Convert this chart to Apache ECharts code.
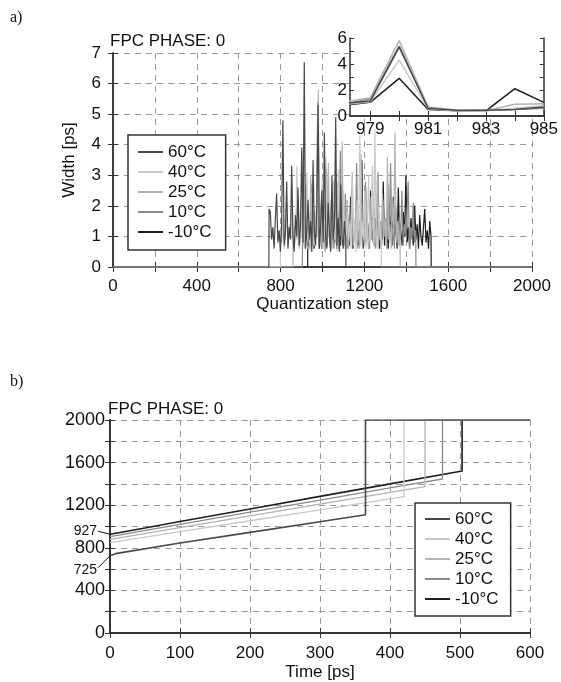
<!DOCTYPE html>
<html><head><meta charset="utf-8">
<script src="https://cdn.jsdelivr.net/npm/echarts@6/dist/echarts.min.js"></script>
<style>html,body{margin:0;padding:0;background:#fff}#c{width:561px;height:682px}</style>
</head><body><div id="c"></div>
<script>
// ---------- data ----------
const seriesNames = ['60°C', '40°C', '25°C', '10°C', '-10°C'];

// (a) width per quantization step; sampled every `stepWidth` codes from the series start
const stepWidth = 6;
const widthStart = [745, 800, 860, 905, 930];
const width60 = [1.9,1.8,0.9,1.3,0.6,1.6,2.4,0.8,1.2,0.5,1.4,4.8,0.7,1.1,2.8,0.6,1.3,0.9,3.3,1.0,0.5,1.7,1.0,2.6,0.7,1.4,3.9,0.8,6.7,0.6,1.2,2.2,0.9,1.5,0.5,3.5,1.1,0.7,1.9,5.3,0.6,1.3,2.5,0.8,4.4,1.0,0.6,2.1,1.2,0.5,3.0,0.9,1.4,4.9,0.7,1.6,0.5,2.7,1.0,0.6,1.5,0.9];
const width40 = [1.3,0.8,1.6,0.6,1.2,2.1,0.7,1.4,0.9,2.6,0.6,1.3,1.0,3.3,0.7,1.5,0.8,2.0,3.8,0.6,1.2,3.1,0.9,1.6,0.5,2.4,1.1,0.7,1.8,1.0,4.3,0.7,1.3,2.9,0.6,1.5,3.6,0.8,1.2,2.2,0.6,1.4,2.8,0.9,1.6,0.5,3.2,1.0,1.7,0.7,2.5,1.1,0.6,1.8,0.9,1.4,0.6,2.9,1.0,1.6,0.5,2.2,1.2,4.3,0.7,1.5,0.9,2.4,0.6,1.3,3.0,0.8,1.7,3.3,0.7,4.5,1.1,0.6,2.0,1.2,0.8];
const width25 = [1.2,0.7,1.5,0.9,2.3,0.6,1.1,1.8,0.7,1.3,2.7,0.8,1.4,0.6,3.0,1.0,0.7,1.9,1.2,1.4,5.8,0.8,1.2,0.6,2.5,1.0,1.5,0.7,3.4,0.9,1.3,0.6,2.1,1.1,0.8,2.8,0.6,1.4,1.0,4.1,0.7,1.3,0.9,2.2,0.6,1.5,1.0,3.1,0.7,1.2,2.0,0.8,1.6,0.6,3.7,1.0,1.3,0.7,2.6,1.1,0.6,1.7,0.9,1.4,2.3,0.7,1.2,3.0,0.8,1.5,0.6,2.4,1.0,1.6,0.7,3.6,0.9,1.4,0.6,2.2,1.1,4.4,0.8,1.5,0.7,1.2];
const width10 = [1.4,0.8,1.2,2.0,0.6,1.5,0.9,2.7,0.7,1.3,1.0,1.8,5.4,0.6,1.1,2.3,0.8,1.4,0.5,3.2,1.0,1.6,0.7,2.0,1.2,0.6,2.9,0.9,1.3,0.6,3.8,1.0,1.5,0.7,2.4,1.1,0.6,1.7,0.9,2.6,0.7,1.3,1.0,3.4,0.6,1.5,0.9,2.1,1.2,0.7,2.8,1.0,1.4,0.6,2.3,1.1,0.8,1.9,0.6,1.3,3.1,0.9,1.5,0.7,2.2,1.0,1.6,0.6,2.7,1.1,3.4,0.8,1.3,0.6,2.0,1.2,0.7,1.6,0.9,2.5,0.7,1.4,1.0,1.7,2.8,0.6,1.3,0.9,2.1,0.8,1.2];
const widthM10 = [1.1,0.7,1.4,0.9,1.8,0.6,1.2,1.0,2.9,0.8,1.3,0.6,1.6,0.9,2.2,0.7,1.1,1.5,0.6,2.4,1.0,0.8,1.3,0.6,1.9,1.1,0.7,2.6,0.9,1.4,0.6,1.7,1.0,0.7,2.3,1.2,0.6,1.5,0.9,2.0,0.7,1.3,1.0,3.5,0.6,1.4,0.8,1.8,1.1,0.6,2.5,0.9,1.2,0.7,1.6,1.0,2.1,0.6,1.3,0.9,2.8,0.7,1.5,1.0,0.6,1.9,1.1,0.7,2.3,1.0,1.4,0.6,2.6,0.9,1.2,0.7,1.8,1.0,3.0,0.8,1.3,0.6,1.6,1.1,0.7,2.0,0.9,1.4,0.6,1.7,1.0,0.7,1.3,1.9,0.8,1.2,0.6,1.5,1.0];
const widthValues = [width60, width40, width25, width10, widthM10];

// inset: zoom on steps 978..985
const insetSteps = [978, 979, 980, 981, 982, 983, 984, 985];
const inset60  = [0.95, 1.15, 5.3, 0.60, 0.45, 0.45, 0.50, 0.70];
const inset40  = [0.85, 1.10, 4.3, 0.55, 0.40, 0.40, 0.60, 0.80];
const inset25  = [1.05, 1.40, 5.8, 0.70, 0.45, 0.40, 0.90, 0.95];
const inset10  = [0.90, 1.30, 5.4, 0.60, 0.40, 0.45, 0.50, 0.60];
const insetM10 = [0.80, 1.05, 2.9, 0.50, 0.40, 0.40, 2.10, 1.05];
const insetValues = [inset60, inset40, inset25, inset10, insetM10];
const insetLabelSteps = [979, 981, 983, 985];

// (b) output code vs time [ps]: [time, code]
const code60  = [[0,725],[8,745],[100,845],[200,945],[300,1045],[365,1110]];
const code40  = [[0,848],[100,951],[200,1054],[300,1157],[420,1280]];
const code25  = [[0,880],[100,990],[200,1100],[300,1210],[400,1320],[450,1374]];
const code10  = [[0,905],[100,1020],[200,1134],[300,1248],[400,1362],[475,1446]];
const codeM10 = [[0,927],[50,986],[100,1047],[200,1165],[300,1283],[400,1400],[503,1521]];
const codeValues = [code60, code40, code25, code10, codeM10];
const codeMax = 2000;
const timeMax = 600;
const annotCodes = [927, 725];

// ---------- styles ----------
const colors = ['#484848', '#c9c9c9', '#b2b2b2', '#8a8a8a', '#1e1e1e'];
const font = 'Liberation Sans, Arial, sans-serif';
const axisCol = '#333';
const gridDash = {color: '#9a9a9a', type: [6, 5], width: 1};

function widthSeries(start, vals) {
  const d = [[0, 0], [start - 1, 0]];
  vals.forEach((v, i) => d.push([start + i * stepWidth, v]));
  const last = start + (vals.length - 1) * stepWidth;
  d.push([last + 1, 0], [2000, 0]);
  return d;
}
function codeSeries(pts) {
  const d = pts.slice();
  const last = pts[pts.length - 1];
  d.push([last[0], codeMax], [timeMax, codeMax]);
  return d;
}

const series = [];
[4, 3, 2, 1, 0].forEach(k => {
  series.push({
    type: 'line', name: seriesNames[k], xAxisIndex: 0, yAxisIndex: 0,
    data: widthSeries(widthStart[k], widthValues[k]),
    showSymbol: false, symbol: 'none', color: colors[k],
    lineStyle: {width: 1.2, color: colors[k]}, z: 2, animation: false
  });
});
[4, 3, 2, 1, 0].forEach(k => {
  series.push({
    type: 'line', name: seriesNames[k], xAxisIndex: 2, yAxisIndex: 2,
    data: insetSteps.map((s, i) => [s, insetValues[k][i]]),
    showSymbol: false, symbol: 'none', color: colors[k],
    lineStyle: {width: 1.5, color: colors[k]}, z: 7, animation: false
  });
});
[4, 3, 2, 1, 0].forEach(k => {
  series.push({
    type: 'line', name: seriesNames[k], xAxisIndex: 4, yAxisIndex: 4,
    data: codeSeries(codeValues[k]),
    showSymbol: false, symbol: 'none', color: colors[k],
    lineStyle: {width: (k === 0 || k === 4) ? 1.6 : 1.3, color: colors[k]}, z: 2, animation: false
  });
});

const lbl = {color: '#111', fontSize: 17, fontFamily: font};
const tick = (len) => ({show: true, inside: true, length: len, lineStyle: {color: axisCol, width: 1}});
const line = (w) => ({show: true, lineStyle: {color: axisCol, width: w}});

const legendBase = {
  orient: 'vertical', data: seriesNames, icon: 'rect', itemWidth: 25, itemHeight: 2,
  itemGap: 2, textStyle: {fontSize: 17, fontFamily: font, color: '#111', lineHeight: 18},
  borderColor: '#333', borderWidth: 1.5, backgroundColor: '#fff',
  selectedMode: false, z: 8
};

const option = {
  animation: false,
  backgroundColor: '#fff',
  title: [
    {text: 'a)', left: 10, top: 10, padding: 0, textStyle: {fontFamily: 'Liberation Serif, Times New Roman, serif', fontSize: 16, fontWeight: 'normal', color: '#111'}},
    {text: 'FPC PHASE: 0', left: 110, top: 33, padding: 0, textStyle: {fontFamily: font, fontSize: 17, fontWeight: 'normal', color: '#111'}},
    {text: 'b)', left: 10, top: 374, padding: 0, textStyle: {fontFamily: 'Liberation Serif, Times New Roman, serif', fontSize: 16, fontWeight: 'normal', color: '#111'}},
    {text: 'FPC PHASE: 0', left: 108, top: 401, padding: 0, textStyle: {fontFamily: font, fontSize: 17, fontWeight: 'normal', color: '#111'}}
  ],
  legend: [
    Object.assign({}, legendBase, {left: 128, top: 135, padding: [8, 14, 9, 10]}),
    Object.assign({}, legendBase, {left: 415, top: 503, padding: [7, 12, 8, 10]})
  ],
  grid: [
    {left: 113, top: 53, width: 419, height: 214, containLabel: false},
    {left: 350, top: 38, width: 197, height: 78, show: true, backgroundColor: '#fff', borderWidth: 0, z: 5},
    {left: 110, top: 420, width: 420, height: 213}
  ],
  xAxis: [
    {gridIndex: 0, type: 'value', min: 0, max: 2000, interval: 200, position: 'bottom',
     axisLine: line(1.5), axisTick: tick(5),
     axisLabel: Object.assign({}, lbl, {margin: 11, formatter: v => (v % 400 === 0 ? String(v) : '')}),
     splitLine: {show: true, lineStyle: gridDash},
     name: 'Quantization step', nameLocation: 'middle', nameGap: 29,
     nameTextStyle: {fontSize: 17, fontFamily: font, color: '#111'}},
    {gridIndex: 0, type: 'value', min: 0, max: 2000, interval: 200, position: 'top',
     axisLine: line(1.5), axisTick: tick(5), axisLabel: {show: false}, splitLine: {show: false}},
    {gridIndex: 1, type: 'value', min: 978.3, max: 985, position: 'bottom', z: 6,
     axisLine: line(1.5),
     axisTick: Object.assign(tick(5), {customValues: insetSteps.slice(1)}),
     axisLabel: Object.assign({}, lbl, {margin: 5, customValues: insetLabelSteps}),
     splitLine: {show: false}},
    {gridIndex: 1, type: 'value', min: 978.3, max: 985, position: 'top', z: 6,
     axisLine: line(1.5),
     axisTick: Object.assign(tick(5), {customValues: insetSteps.slice(1)}),
     axisLabel: {show: false}, splitLine: {show: false}},
    {gridIndex: 2, type: 'value', min: 0, max: 600, interval: 100, position: 'bottom',
     axisLine: line(1.8), axisTick: tick(5),
     axisLabel: Object.assign({}, lbl, {margin: 12}),
     splitLine: {show: true, lineStyle: gridDash},
     name: 'Time [ps]', nameLocation: 'middle', nameGap: 31,
     nameTextStyle: {fontSize: 17, fontFamily: font, color: '#111'}},
    {gridIndex: 2, type: 'value', min: 0, max: 600, interval: 100, position: 'top',
     axisLine: line(1.8), axisTick: tick(5), axisLabel: {show: false}, splitLine: {show: false}}
  ],
  yAxis: [
    {gridIndex: 0, type: 'value', min: 0, max: 7, interval: 1, position: 'left',
     axisLine: line(1.5), axisTick: tick(5),
     axisLabel: Object.assign({}, lbl, {margin: 12}),
     splitLine: {show: true, lineStyle: gridDash},
     name: 'Width [ps]', nameLocation: 'middle', nameGap: 35,
     nameTextStyle: {fontSize: 17, fontFamily: font, color: '#111'}},
    {gridIndex: 0, type: 'value', min: 0, max: 7, interval: 1, position: 'right',
     axisLine: line(1.5), axisTick: tick(5), axisLabel: {show: false}, splitLine: {show: false}},
    {gridIndex: 1, type: 'value', min: 0, max: 6, interval: 1, position: 'left', z: 6,
     axisLine: line(1.5), axisTick: tick(4),
     axisLabel: Object.assign({}, lbl, {margin: 3, formatter: v => (v % 2 === 0 ? String(v) : '')}),
     splitLine: {show: false}},
    {gridIndex: 1, type: 'value', min: 0, max: 6, interval: 1, position: 'right', z: 6,
     axisLine: line(1.5), axisTick: tick(4), axisLabel: {show: false}, splitLine: {show: false}},
    {gridIndex: 2, type: 'value', min: 0, max: 2000, interval: 200, position: 'left',
     axisLine: line(1.8), axisTick: tick(5),
     axisLabel: Object.assign({}, lbl, {fontSize: 18, margin: 5, formatter: v => (v % 400 === 0 ? String(v) : '')}),
     splitLine: {show: true, lineStyle: gridDash}},
    {gridIndex: 2, type: 'value', min: 0, max: 2000, interval: 200, position: 'right',
     axisLine: line(1.8), axisTick: tick(5), axisLabel: {show: false}, splitLine: {show: false}}
  ],
  series: series
};

const chart = echarts.init(document.getElementById('c'), null, {renderer: 'canvas'});
chart.setOption(option);

// annotations 927 / 725 with leader lines to the code axis at t = 0
const pTop = chart.convertToPixel({xAxisIndex: 4, yAxisIndex: 4}, [0, annotCodes[0]]);
const pBot = chart.convertToPixel({xAxisIndex: 4, yAxisIndex: 4}, [0, annotCodes[1]]);
const annStyle = {fontSize: 14, fontFamily: font, fill: '#111'};
chart.setOption({
  graphic: [
    {type: 'text', x: pTop[0] - 13, y: pTop[1] - 3, z: 20,
     style: Object.assign({text: String(annotCodes[0]), align: 'right', verticalAlign: 'middle'}, annStyle)},
    {type: 'line', z: 20, shape: {x1: pTop[0] - 12, y1: pTop[1] - 3, x2: pTop[0], y2: pTop[1]},
     style: {stroke: '#111', lineWidth: 1}},
    {type: 'text', x: pBot[0] - 13, y: pBot[1] + 14, z: 20,
     style: Object.assign({text: String(annotCodes[1]), align: 'right', verticalAlign: 'middle'}, annStyle)},
    {type: 'line', z: 20, shape: {x1: pBot[0] - 12, y1: pBot[1] + 12, x2: pBot[0], y2: pBot[1]},
     style: {stroke: '#111', lineWidth: 1}}
  ]
});
</script>
</body></html>
